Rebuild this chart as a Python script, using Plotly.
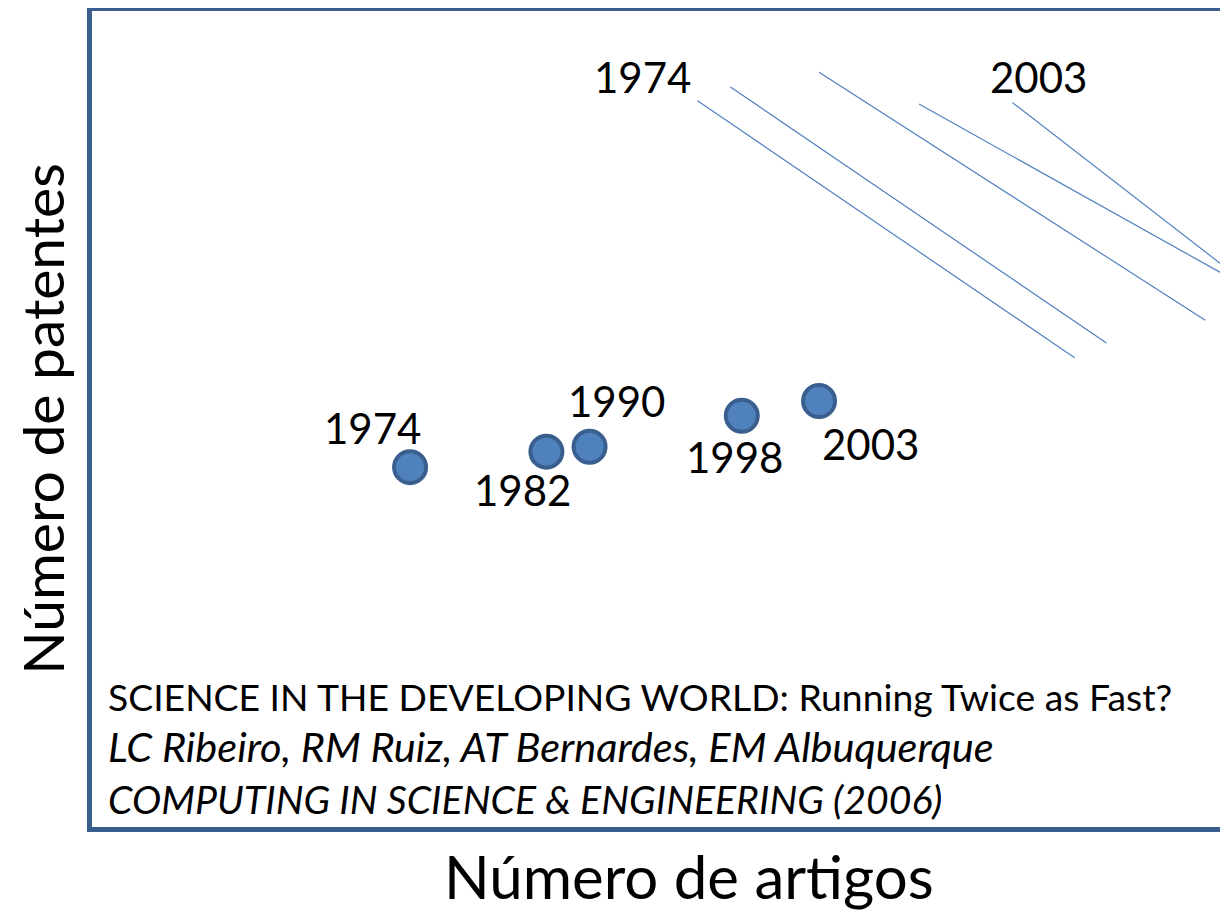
import plotly.graph_objects as go

# ---- data (arbitrary units) ----
years = ["1974", "1982", "1990", "1998", "2003"]
artigos = [28.0, 40.0, 43.8, 57.2, 64.0]
patentes = [44.1, 46.0, 46.6, 50.4, 52.2]

# leader lines of the second (off-view) series
lead_x0 = [53.3, 56.2, 64.0, 72.8, 81.0]
lead_y0 = [89.0, 90.7, 92.5, 88.6, 88.8]
lead_x1 = [86.5, 89.3, 98.0, 103.0, 103.0]
lead_y1 = [57.5, 59.3, 62.1, 65.1, 65.1]

top_labels = ["1974", "2003"]
top_x = [48.5, 83.3]
top_y = [91.9, 91.9]

citation = [
    "SCIENCE IN THE DEVELOPING WORLD: Running Twice as Fast?",
    "<i>LC Ribeiro, RM Ruiz, AT Bernardes, EM Albuquerque</i>",
    "<i>COMPUTING IN SCIENCE &amp; ENGINEERING (2006)</i>",
]
citation_y = [16.0, 9.9, 3.5]
citation_size = [37.3, 41.5, 39.2]

x_title = "Número de artigos"
y_title = "Número de patentes"

# label offsets (px) relative to each point
label_dx = [-38, -24, 27, -7, 51]
label_dy = [39, -38, 46, -41, -43]

FONT = "Lato, Carlito, 'Open Sans', sans-serif"
BLUE = "#4F81BD"
DARK = "#3A5F8F"

fig = go.Figure()

for x0, y0, x1, y1 in zip(lead_x0, lead_y0, lead_x1, lead_y1):
    fig.add_trace(go.Scatter(
        x=[x0, x1], y=[y0, y1], mode="lines",
        line=dict(color=BLUE, width=1.2), hoverinfo="skip", showlegend=False))

fig.add_trace(go.Scatter(
    x=artigos, y=patentes, mode="markers",
    marker=dict(size=32, color=BLUE, line=dict(color=DARK, width=4)),
    showlegend=False, cliponaxis=False))

for yr, x, y, dx, dy in zip(years, artigos, patentes, label_dx, label_dy):
    fig.add_annotation(x=x, y=y, text=yr, showarrow=False, xshift=dx, yshift=dy,
                       font=dict(family=FONT, size=42, color="black"))

for t, x, y in zip(top_labels, top_x, top_y):
    fig.add_annotation(x=x, y=y, text=t, showarrow=False,
                       font=dict(family=FONT, size=42, color="black"))

for t, y, s in zip(citation, citation_y, citation_size):
    fig.add_annotation(x=1.2, y=y, text=t, showarrow=False, xanchor="left",
                       yanchor="middle", font=dict(family=FONT, size=s, color="black"))

# x-axis title (offset to the right as in the original slide)
fig.add_annotation(xref="paper", yref="paper", x=0.5255, y=-0.060,
                   text=x_title, showarrow=False, xanchor="center", yanchor="middle",
                   font=dict(family=FONT, size=60, color="black"))

fig.update_layout(
    width=1220, height=907,
    margin=dict(l=84, r=0, t=3, b=88),
    paper_bgcolor="white", plot_bgcolor="white",
    xaxis=dict(range=[0, 100], showgrid=False, zeroline=False, showticklabels=False,
               ticks="", showline=True, mirror=True, linecolor=DARK, linewidth=5,
               automargin=False),
    yaxis=dict(range=[0, 100], showgrid=False, zeroline=False, showticklabels=False,
               ticks="", showline=True, linecolor=DARK, linewidth=5,
               title=dict(text=y_title, standoff=25,
                          font=dict(family=FONT, size=57, color="black")),
               automargin=False),
)

fig.write_html("out.html")
